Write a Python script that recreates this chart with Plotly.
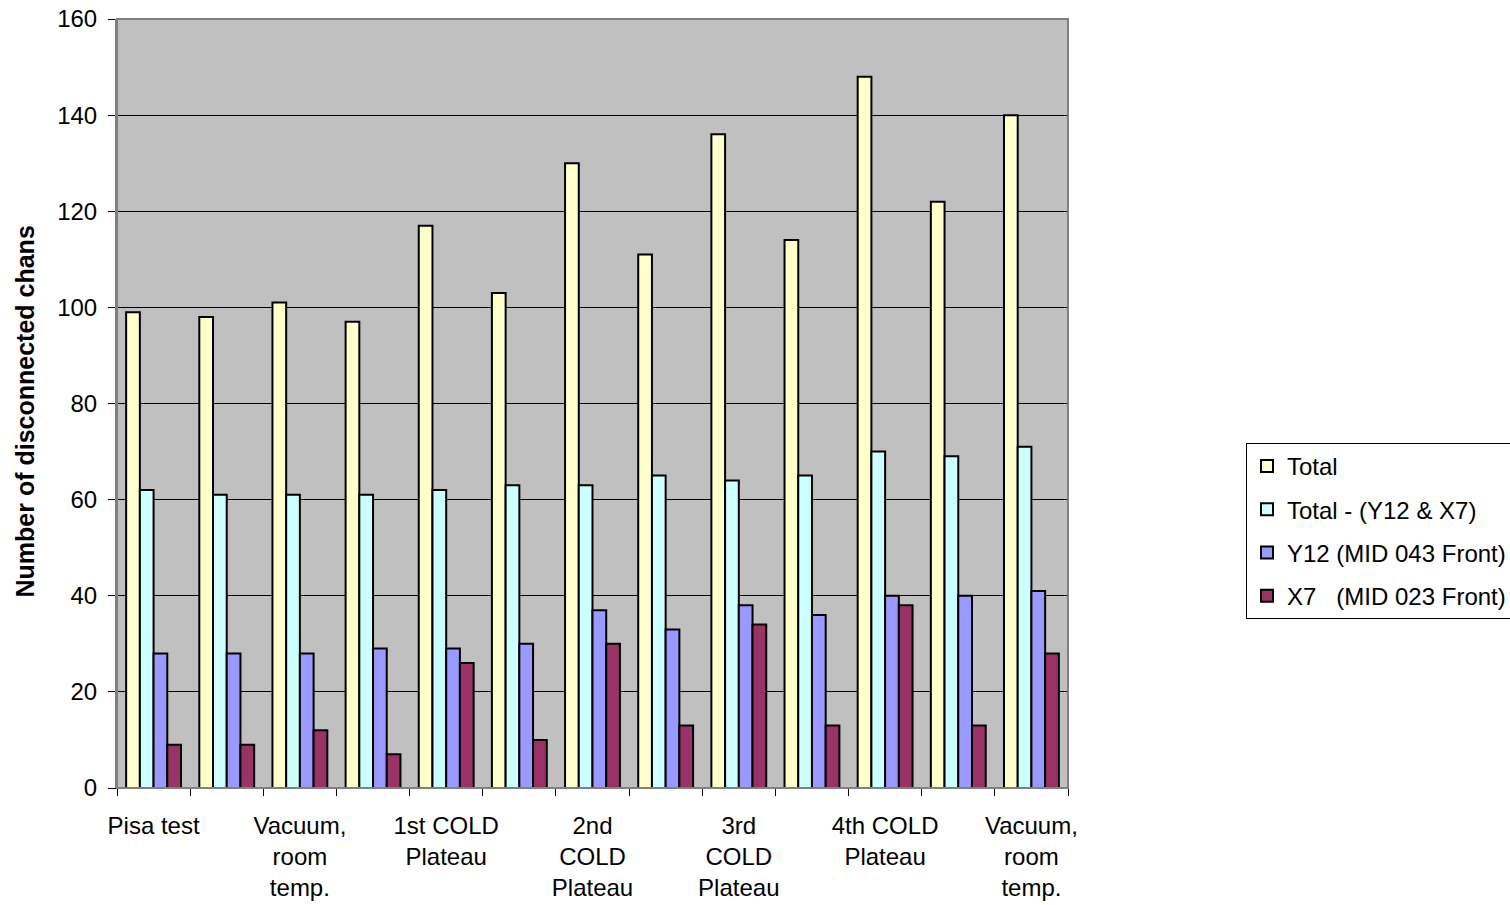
import plotly.graph_objects as go

categories = ["Pisa test", "", "Vacuum,<br>room<br>temp.", "", "1st COLD<br>Plateau", "",
              "2nd<br>COLD<br>Plateau", "", "3rd<br>COLD<br>Plateau", "", "4th COLD<br>Plateau", "",
              "Vacuum,<br>room<br>temp."]
total = [99, 98, 101, 97, 117, 103, 130, 111, 136, 114, 148, 122, 140]
total_minus = [62, 61, 61, 61, 62, 63, 63, 65, 64, 65, 70, 69, 71]
y12 = [28, 28, 28, 29, 29, 30, 37, 33, 38, 36, 40, 40, 41]
x7 = [9, 9, 12, 7, 26, 10, 30, 13, 34, 13, 38, 13, 28]

series_names = ["Total", "Total - (Y12 & X7)", "Y12 (MID 043 Front)", "X7\u00a0\u00a0\u00a0(MID 023 Front)"]
series_values = [total, total_minus, y12, x7]
colors = ["#FFFFCC", "#CCFFFF", "#9999FF", "#993366"]
y_title = "Number of disconnected chans"

xpos = list(range(len(categories)))
FONT = "Liberation Sans, Arial, sans-serif"

fig = go.Figure()
for i, (name, vals, col) in enumerate(zip(series_names, series_values, colors)):
    fig.add_trace(go.Bar(
        x=xpos, y=vals, name=name, legendgroup=f"g{i}",
        marker=dict(color=col, line=dict(color="black", width=2)),
    ))

label_idx = [i for i, c in enumerate(categories) if c]
fig.update_layout(
    width=1510, height=905,
    barmode="group", bargap=0.25, bargroupgap=0,
    paper_bgcolor="white", plot_bgcolor="#C0C0C0",
    margin=dict(l=117, r=442, t=19, b=117),
    font=dict(family=FONT, size=24, color="black"),
    legend=dict(
        xref="container", yref="container",
        x=1246 / 1510, y=1 - 443 / 905, xanchor="left", yanchor="top",
        bordercolor="black", borderwidth=1, bgcolor="white",
        font=dict(size=24), traceorder="grouped", tracegroupgap=9,
    ),
    xaxis=dict(
        range=[-0.5, 12.5], automargin=False,
        tickmode="array", tickvals=label_idx, ticktext=[categories[i] for i in label_idx],
        ticks="", showgrid=False, zeroline=False,
        showline=True, linecolor="black", linewidth=1,
        ticklabelstandoff=16,
        minor=dict(tick0=-0.5, dtick=1, ticks="outside", ticklen=7, tickcolor="black", showgrid=False),
    ),
    yaxis=dict(
        range=[0, 160], dtick=20, tickmode="linear", automargin=False,
        ticks="outside", ticklen=7, tickcolor="black", ticklabelstandoff=6,
        showgrid=True, gridcolor="black", gridwidth=1,
        zeroline=False, showline=True, linecolor="#808080", linewidth=2, mirror=False,
    ),
    showlegend=True,
)
fig.add_annotation(
    text=f"<b>{y_title}</b>", textangle=-90, showarrow=False,
    xref="paper", yref="paper", x=0, y=(788 - 411.5) / 769,
    xanchor="center", yanchor="middle", xshift=-93,
    font=dict(size=25, family=FONT, color="black"),
)
fig.add_shape(type="rect", xref="paper", yref="paper", x0=0, y0=0, x1=1, y1=1,
              line=dict(color="#808080", width=2), layer="above")

fig.write_html("out.html", config={"displayModeBar": False},
               post_script="document.body.style.margin='0';document.body.style.overflow='hidden';")
